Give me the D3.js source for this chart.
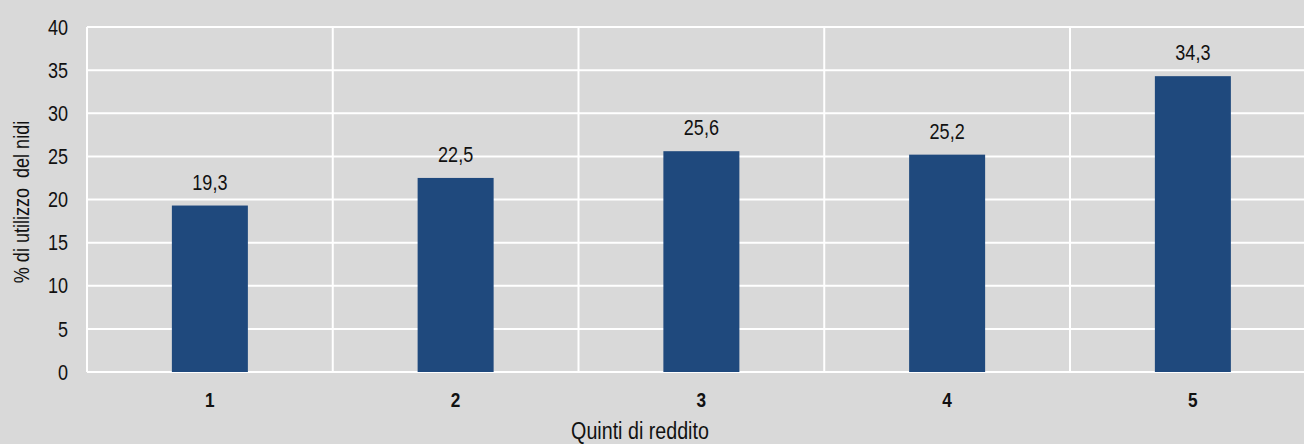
<!DOCTYPE html>
<html lang='it'>
    <head>
        <meta charset='UTF-8'>
        <title>Utilizzo dei nidi per quinti di reddito</title>
        <script src="https://d3js.org/d3.v7.min.js"></script>
        <style>
            body {
                margin: 0;
                background: #d9d9d9;
                overflow: hidden;
            }
            svg {
                display: block;
                font-family: 'Liberation Sans', Arial, sans-serif;
            }
        </style>
    </head>
    <body>
        <svg width='1304' height='444'></svg>
        <script>
            // data
            const quintili = ['1', '2', '3', '4', '5'];
            const utilizzo = [19.3, 22.5, 25.6, 25.2, 34.3];
            const yTicks = [0, 5, 10, 15, 20, 25, 30, 35, 40];

            const svg = d3.select('svg');
            const plotLeft = 87, plotTop = 27, plotBottom = 372;
            const band = 245.75;
            const narrow = 0.82;   // fake Arial Narrow by squeezing Liberation Sans

            let x = d3.scaleBand()
                .domain(quintili)
                .range([plotLeft, plotLeft + band * quintili.length])
                .paddingInner(0).paddingOuter(0);

            let y = d3.scaleLinear()
                .domain([0, 40])
                .range([plotBottom, plotTop]);

            svg.append('rect')
                .attr('width', 1304).attr('height', 444)
                .attr('fill', '#d9d9d9');

            // horizontal grid
            svg.append('g')
                .selectAll('line')
                .data(yTicks)
                .join('line')
                .attr('x1', plotLeft).attr('x2', 1304)
                .attr('y1', d => y(d)).attr('y2', d => y(d))
                .attr('stroke', '#ffffff')
                .attr('stroke-width', 2);

            // vertical grid at category edges
            svg.append('g')
                .selectAll('line')
                .data(quintili)
                .join('line')
                .attr('x1', d => x(d)).attr('x2', d => x(d))
                .attr('y1', plotTop).attr('y2', plotBottom)
                .attr('stroke', '#ffffff')
                .attr('stroke-width', 2);

            // y tick labels
            svg.append('g')
                .selectAll('text')
                .data(yTicks)
                .join('text')
                .attr('transform', d => `translate(${plotLeft - 19},${y(d)}) scale(${narrow},1)`)
                .attr('dy', '0.35em')
                .attr('text-anchor', 'end')
                .attr('font-size', 22)
                .attr('fill', '#111')
                .text(d => d);

            // bars
            const barW = 76;
            svg.append('g')
                .selectAll('rect')
                .data(utilizzo)
                .join('rect')
                .attr('x', (d, i) => x(quintili[i]) + x.bandwidth() / 2 - barW / 2)
                .attr('y', d => y(d))
                .attr('width', barW)
                .attr('height', d => y(0) - y(d))
                .attr('fill', '#1f497d');

            // value labels
            svg.append('g')
                .selectAll('text')
                .data(utilizzo)
                .join('text')
                .attr('transform', (d, i) => `translate(${x(quintili[i]) + x.bandwidth() / 2},${y(d) - 16}) scale(${narrow},1)`)
                .attr('text-anchor', 'middle')
                .attr('font-size', 22)
                .attr('fill', '#111')
                .text(d => d.toFixed(1).replace('.', ','));

            // category labels
            svg.append('g')
                .selectAll('text')
                .data(quintili)
                .join('text')
                .attr('transform', d => `translate(${x(d) + x.bandwidth() / 2},407) scale(${narrow},1)`)
                .attr('text-anchor', 'middle')
                .attr('font-size', 21)
                .attr('font-weight', 'bold')
                .attr('fill', '#111')
                .text(d => d);

            // axis titles
            svg.append('text')
                .attr('transform', `translate(640,439) scale(${narrow},1)`)
                .attr('text-anchor', 'middle')
                .attr('font-size', 24)
                .attr('fill', '#111')
                .text('Quinti di reddito');

            svg.append('text')
                .attr('transform', `translate(29,202) rotate(-90) scale(${narrow},1)`)
                .attr('text-anchor', 'middle')
                .attr('font-size', 22)
                .attr('fill', '#111')
                .attr('xml:space', 'preserve')
                .style('white-space', 'pre')
                .text('% di utilizzo  del nidi');
        </script>
    </body>
</html>
